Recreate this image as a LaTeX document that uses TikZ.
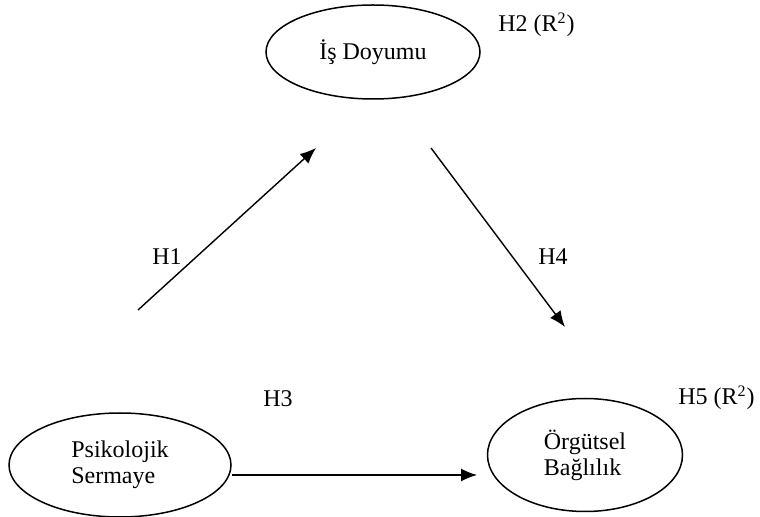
\documentclass[tikz,border=0pt]{standalone}
\usepackage{fontspec}
\setmainfont{Liberation Serif}
\usetikzlibrary{calc,shapes.geometric,arrows.meta}

\tikzset{
  construct/.style={ellipse, draw=black, line width=0.75pt, inner sep=0pt, align=left, font=\fontsize{12}{13}\selectfont},
  hyp/.style={-{Latex[length=8pt,width=6.5pt]}, line width=0.7pt},
  hlabel/.style={anchor=base west, inner sep=0pt, font=\fontsize{12}{13}\selectfont}
}

\begin{document}
\begin{tikzpicture}[x=0.5pt, y=-0.5pt]
    \useasboundingbox (0,0) rectangle (760,517);

    \node[construct, minimum width=107pt, minimum height=47pt] (isd) at (373,52) {İş Doyumu};
    
    \node[construct, minimum width=111pt, minimum height=52pt] (psk) at (120,465) {Psikolojik\\Sermaye};
    
    \node[construct, minimum width=97.5pt, minimum height=56.5pt] (org) at (585,455) {Örgütsel\\Bağlılık};
    
    \coordinate (h1a) at (138,310);
    \coordinate (h1b) at (316,148);
    \coordinate (h4a) at (431,148);
    \coordinate (h4b) at (565,327);
    \coordinate (h3b) at (477,475);
    
    \draw[hyp] (h1a) -- (h1b);
    \draw[hyp] (h4a) -- (h4b);
    \draw[hyp] (psk.east |- h3b) -- (h3b);
    
    \node[hlabel] (h1) at (152,265) {H1};
    \node[hlabel] (h2) at (498,32) {H2 (R\textsuperscript{2})};
    \node[hlabel] (h3) at (263,407) {H3};
    \node[hlabel] (h4) at (538,265) {H4};
    \node[hlabel] (h5) at (678,405) {H5 (R\textsuperscript{2})};
    
\end{tikzpicture}
\end{document}
